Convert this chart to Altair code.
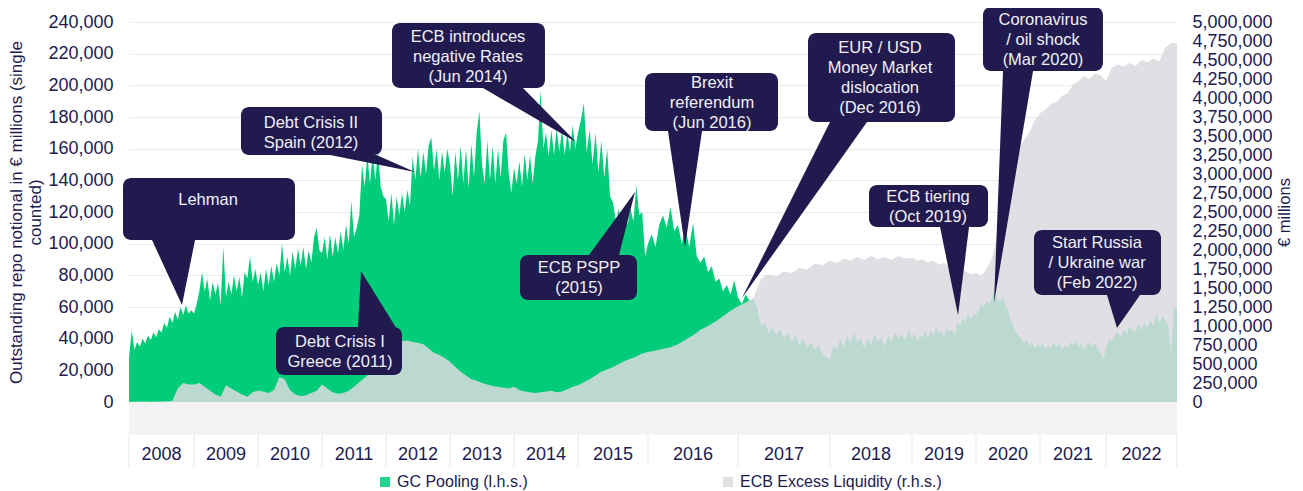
import math
import altair as alt
import pandas as pd

FONT = "Liberation Sans"
NAVY = "#211a4e"
GREEN = "#00cc7a"
GREY = "#dbdbdf"
BAND = "#f2f3f2"
GRID = "#ebebeb"
CALLOUT_TEXT = "#f1f0f6"

YEARS = list(range(2008, 2023))
# observations per year (trading days in the source series)
OBS_PER_YEAR = [260, 256, 256, 256, 256, 256, 256, 280, 360, 368, 328, 256, 256, 264, 284]

# GC Pooling outstanding (EUR m), ~semi-monthly readings per year
GC_2008 = [28000, 45000, 33000, 38000, 35000, 40000, 37000, 42000, 39000, 44000, 41000, 46000, 44000, 50000, 47000, 54000, 50000, 57000, 52000, 60000, 55000, 61000, 56000, 58000]
GC_2009 = [56000, 62000, 70000, 82000, 70000, 78000, 64000, 76000, 68000, 75000, 62000, 98000, 66000, 76000, 68000, 80000, 70000, 79000, 66000, 82000, 78000, 92000, 76000, 84000]
GC_2010 = [74000, 82000, 70000, 84000, 74000, 86000, 76000, 88000, 80000, 100000, 82000, 92000, 80000, 95000, 84000, 97000, 86000, 98000, 84000, 96000, 88000, 104000, 110000, 96000]
GC_2011 = [94000, 104000, 90000, 106000, 92000, 104000, 94000, 108000, 96000, 112000, 100000, 127000, 104000, 110000, 118000, 150000, 136000, 156000, 138000, 157000, 140000, 158000, 136000, 130000]
GC_2012 = [128000, 114000, 132000, 112000, 130000, 118000, 132000, 120000, 134000, 124000, 155000, 140000, 160000, 142000, 158000, 144000, 162000, 167000, 146000, 160000, 140000, 158000, 145000, 160000]
GC_2013 = [150000, 130000, 158000, 140000, 162000, 138000, 160000, 135000, 163000, 142000, 170000, 184000, 150000, 138000, 165000, 140000, 162000, 138000, 160000, 142000, 165000, 170000, 145000, 132000]
GC_2014 = [148000, 138000, 152000, 136000, 157000, 140000, 156000, 138000, 155000, 165000, 197000, 160000, 170000, 155000, 172000, 156000, 173000, 158000, 172000, 156000, 170000, 158000, 175000, 160000]
GC_2015 = [170000, 178000, 189000, 158000, 172000, 150000, 170000, 145000, 165000, 142000, 160000, 130000, 126000, 114000, 122000, 110000, 123000, 112000, 122000, 114000, 137000, 118000, 120000, 92000]
GC_2016 = [100000, 106000, 98000, 112000, 118000, 110000, 123000, 108000, 112000, 100000, 110000, 98000, 113000, 92000, 88000, 92000, 82000, 86000, 76000, 78000, 70000, 74000, 68000, 77000]
GC_2017 = [66000, 62000, 68000, 64000, 65000, 60000, 48000, 50000, 44000, 47000, 42000, 46000, 40000, 44000, 38000, 42000, 36000, 40000, 34000, 38000, 33000, 36000, 30000, 28000]
GC_2018 = [27000, 36000, 33000, 40000, 35000, 42000, 37000, 44000, 38000, 41000, 34000, 40000, 36000, 43000, 38000, 41000, 35000, 42000, 38000, 44000, 40000, 43000, 39000, 45000]
GC_2019 = [40000, 44000, 38000, 42000, 41000, 45000, 40000, 46000, 42000, 47000, 43000, 45000, 41000, 47000, 44000, 46000, 42000, 50000, 48000, 53000, 50000, 56000, 52000, 55000]
GC_2020 = [55000, 58000, 62000, 60000, 64000, 62000, 66000, 71000, 65000, 63000, 66000, 62000, 58000, 52000, 48000, 44000, 42000, 40000, 37000, 39000, 35000, 38000, 34000, 36000]
GC_2021 = [35000, 37000, 33000, 36000, 34000, 38000, 35000, 37000, 33000, 36000, 34000, 38000, 36000, 39000, 35000, 37000, 33000, 36000, 38000, 35000, 37000, 34000, 31000, 27000]
GC_2022 = [34000, 40000, 38000, 42000, 44000, 41000, 46000, 43000, 48000, 45000, 44000, 49000, 46000, 50000, 47000, 52000, 48000, 56000, 50000, 54000, 52000, 48000, 31000, 60000]

# ECB excess liquidity (EUR m), monthly readings per year
EL_2008 = [5000, 5000, 8000, 6000, 5000, 8000, 6000, 10000, 15000, 180000, 250000, 230000]
EL_2009 = [230000, 250000, 200000, 150000, 100000, 70000, 220000, 180000, 140000, 100000, 70000, 130000]
EL_2010 = [150000, 140000, 120000, 160000, 330000, 300000, 160000, 100000, 80000, 90000, 120000, 150000]
EL_2011 = [230000, 180000, 130000, 110000, 120000, 150000, 200000, 260000, 320000, 380000, 460000, 520000]
EL_2012 = [600000, 720000, 780000, 800000, 810000, 790000, 780000, 760000, 700000, 650000, 620000, 580000]
EL_2013 = [530000, 460000, 400000, 350000, 300000, 280000, 250000, 230000, 210000, 200000, 190000, 180000]
EL_2014 = [200000, 160000, 140000, 130000, 120000, 130000, 140000, 150000, 130000, 140000, 170000, 200000]
EL_2015 = [220000, 260000, 300000, 350000, 400000, 430000, 460000, 500000, 540000, 570000, 600000, 640000]
EL_2016 = [660000, 680000, 700000, 720000, 760000, 820000, 880000, 950000, 1000000, 1060000, 1130000, 1200000]
EL_2017 = [1260000, 1310000, 1370000, 1620000, 1680000, 1650000, 1720000, 1690000, 1770000, 1740000, 1820000, 1800000]
EL_2018 = [1860000, 1830000, 1890000, 1860000, 1910000, 1870000, 1920000, 1880000, 1910000, 1870000, 1920000, 1890000]
EL_2019 = [1900000, 1860000, 1880000, 1840000, 1860000, 1810000, 1830000, 1780000, 1800000, 1740000, 1720000, 1680000]
EL_2020 = [1700000, 1660000, 1750000, 1900000, 2200000, 2700000, 3000000, 3200000, 3330000, 3450000, 3550000, 3700000]
EL_2021 = [3800000, 3850000, 3920000, 3950000, 4030000, 4060000, 4180000, 4220000, 4290000, 4250000, 4320000, 4300000]
EL_2022 = [4230000, 4400000, 4440000, 4410000, 4460000, 4420000, 4500000, 4470000, 4520000, 4480000, 4660000, 4720000]

GC_BY_YEAR = [GC_2008, GC_2009, GC_2010, GC_2011, GC_2012, GC_2013, GC_2014, GC_2015,
              GC_2016, GC_2017, GC_2018, GC_2019, GC_2020, GC_2021, GC_2022]
EL_BY_YEAR = [EL_2008, EL_2009, EL_2010, EL_2011, EL_2012, EL_2013, EL_2014, EL_2015,
              EL_2016, EL_2017, EL_2018, EL_2019, EL_2020, EL_2021, EL_2022]

SERIES_NAMES = ["GC Pooling (l.h.s.)", "ECB Excess Liquidity (r.h.s.)"]
LEFT_TICKS = list(range(0, 240001, 20000))
RIGHT_TICKS = list(range(0, 5000001, 250000))

# Callouts: (text, box x0, box x1 [decimal year], box y0, y1 [lhs units], text x, first-line y,
#            pointer base x0, x1, base y, tip x, tip y)
CALLOUTS = [
    ("Lehman", 2007.908, 2010.578, 102300, 141500, 2009.219, 127600, 2008.354, 2009.016, 102300, 2008.815, 61300),
    ("Debt Crisis II\nSpain (2012)", 2009.734, 2011.938, 156000, 186300, 2010.828, 176200, 2011.125, 2011.85, 156000, 2012.453, 145300),
    ("ECB introduces\nnegative Rates\n(Jun 2014)", 2012.094, 2014.484, 198300, 239400, 2013.281, 230500, 2013.516, 2014.141, 198300, 2014.969, 164200),
    ("Brexit\nreferendum\n(Jun 2016)", 2015.957, 2017.435, 171200, 207800, 2016.711, 201500, 2016.222, 2016.6, 171200, 2016.411, 97900),
    ("EUR / USD\nMoney Market\ndislocation\n(Dec 2016)", 2017.761, 2019.672, 176800, 233100, 2018.61, 223600, 2018.0, 2018.451, 176800, 2017.043, 65700),
    ("ECB tiering\n(Oct 2019)", 2018.476, 2020.188, 110500, 137100, 2019.25, 129500, 2019.438, 2019.891, 110500, 2019.719, 54900),
    ("Coronavirus\n/ oil shock\n(Mar 2020)", 2020.109, 2021.954, 209100, 249500, 2021.045, 241300, 2020.422, 2020.891, 209100, 2020.281, 62500),
    ("Start Russia\n/ Ukraine war\n(Feb 2022)", 2020.906, 2022.775, 67600, 108600, 2021.864, 100400, 2022.014, 2022.479, 67600, 2022.155, 46700),
    ("ECB PSPP\n(2015)", 2014.094, 2015.843, 64400, 92800, 2015.014, 84600, 2015.157, 2015.586, 92800, 2015.814, 132600),
    ("Debt Crisis I\nGreece (2011)", 2010.281, 2012.25, 17100, 47400, 2011.281, 37900, 2011.563, 2012.15, 47400, 2011.609, 82700),
]

# ---- layout constants (lhs units) ----
Y_MAX = 240000
Y_MIN = -41000
BAND_BOTTOM = -20850
YEAR_LABEL_Y = -33400
R_MAX = 5000000
R_MIN = Y_MIN * R_MAX / Y_MAX

year_start = []
acc = 0
for n in OBS_PER_YEAR:
    year_start.append(acc)
    acc += n
TOTAL = acc


def dec_to_idx(d):
    y = math.floor(d)
    i = min(max(y - YEARS[0], 0), len(YEARS) - 1)
    return year_start[i] + (d - YEARS[i]) * OBS_PER_YEAR[i]


def series_df(by_year, name):
    rows = []
    for i, vals in enumerate(by_year):
        n = len(vals)
        for j, v in enumerate(vals):
            rows.append({"idx": year_start[i] + j * OBS_PER_YEAR[i] / n, "value": v, "series": name})
    rows.append({"idx": TOTAL, "value": by_year[-1][-1], "series": name})
    return pd.DataFrame(rows)


def triangle_rows(name, a, b, t):
    pts = [a, b, t]
    xs = sorted(set(p[0] for p in pts))
    edges = [(a, b), (b, t), (t, a)]
    rows = []
    for x0 in xs:
        ys = []
        for p, q in edges:
            x1, y1 = p
            x2, y2 = q
            if abs(x1 - x2) < 1e-9:
                if abs(x0 - x1) < 1e-9:
                    ys += [y1, y2]
                continue
            if min(x1, x2) - 1e-9 <= x0 <= max(x1, x2) + 1e-9:
                ys.append(y1 + (y2 - y1) * (x0 - x1) / (x2 - x1))
        rows.append({"name": name, "x": x0, "y": min(ys), "y2": max(ys)})
    return rows


gc_df = series_df(GC_BY_YEAR, SERIES_NAMES[0])
el_df = series_df(EL_BY_YEAR, SERIES_NAMES[1])

box_rows, text_rows, tri = [], [], []
for (txt, bx0, bx1, by0, by1, tx, ty, px0, px1, py, kx, ky) in CALLOUTS:
    box_rows.append({"x0": dec_to_idx(bx0), "x1": dec_to_idx(bx1), "y0": by0, "y1": by1})
    text_rows.append({"x": dec_to_idx(tx), "y": ty, "text": txt})
    tri += triangle_rows(txt, (dec_to_idx(px0), py), (dec_to_idx(px1), py), (dec_to_idx(kx), ky))
box_df = pd.DataFrame(box_rows)
ctext_df = pd.DataFrame(text_rows)
tri_df = pd.DataFrame(tri)

bounds = year_start + [TOTAL]
sep_df = pd.DataFrame({"x": bounds, "y0": [BAND_BOTTOM] * len(bounds), "y1": [Y_MIN] * len(bounds)})
yl_df = pd.DataFrame({
    "x": [year_start[i] + OBS_PER_YEAR[i] / 2 for i in range(len(YEARS))],
    "y": [YEAR_LABEL_Y] * len(YEARS),
    "text": [str(y) for y in YEARS],
})
band_df = pd.DataFrame({"x0": [0], "x1": [TOTAL], "y0": [0], "y1": [BAND_BOTTOM]})

xs = alt.Scale(domain=[0, TOTAL], nice=False, zero=False)
ys = alt.Scale(domain=[Y_MIN, Y_MAX], nice=False, zero=False)
rs = alt.Scale(domain=[R_MIN, R_MAX], nice=False, zero=False)

color = alt.Color(
    "series:N",
    scale=alt.Scale(domain=SERIES_NAMES, range=[GREEN, GREY]),
    legend=alt.Legend(
        title=None, orient="none", legendX=248, legendY=452, direction="horizontal",
        symbolType="square", symbolSize=100, symbolStrokeWidth=0,
        labelFont=FONT, labelFontSize=16, labelColor=NAVY, labelOffset=4,
        labelLimit=500, columnPadding=192, padding=0,
    ),
)

left_axis = alt.Axis(
    values=LEFT_TICKS, format=",d", ticks=False, domain=False, grid=True,
    gridColor=GRID, gridWidth=1, labelFont=FONT, labelFontSize=18, labelColor=NAVY,
    labelPadding=16, labelOverlap=False, orient="left",
    title=["Outstanding repo notional in € millions (single", "counted)"],
    titleFont=FONT, titleFontSize=17, titleFontWeight="normal", titleColor=NAVY,
    titleAngle=270, titleX=-121, titleY=190, titleAlign="center", titleBaseline="top",
    titleLineHeight=19,
)
right_axis = alt.Axis(
    values=RIGHT_TICKS, format=",d", ticks=False, tickSize=0, domain=False, grid=False,
    labelFont=FONT, labelFontSize=18, labelColor=NAVY, labelPadding=15,
    labelOverlap=False, orient="right", labelAlign="left",
    title="€ millions", titleFont=FONT, titleFontSize=16.5, titleFontWeight="normal",
    titleColor=NAVY, titleAngle=270, titleX=107, titleY=190, titleAlign="center",
    titleBaseline="middle",
)

green = alt.Chart(gc_df).mark_area(interpolate="linear").encode(
    x=alt.X("idx:Q", scale=xs, axis=None),
    y=alt.Y("value:Q", scale=ys, axis=left_axis, stack=None),
    y2=alt.Y2Datum(datum=0),
    color=color,
)

grey = alt.Chart(el_df).mark_area(interpolate="linear", opacity=0.86).encode(
    x=alt.X("idx:Q", scale=xs, axis=None),
    y=alt.Y("value:Q", scale=rs, axis=right_axis, stack=None),
    y2=alt.Y2Datum(datum=0),
    color=color,
)

band = alt.Chart(band_df).mark_rect(color=BAND).encode(
    x=alt.X("x0:Q", scale=xs, axis=None), x2="x1",
    y=alt.Y("y0:Q", scale=ys, axis=None), y2="y1",
)
seps = alt.Chart(sep_df).mark_rule(color="#e6e6e6", strokeWidth=1).encode(
    x=alt.X("x:Q", scale=xs, axis=None),
    y=alt.Y("y0:Q", scale=ys, axis=None), y2="y1",
)
year_labels = alt.Chart(yl_df).mark_text(
    font=FONT, fontSize=18, color=NAVY, align="center", baseline="middle"
).encode(
    x=alt.X("x:Q", scale=xs, axis=None),
    y=alt.Y("y:Q", scale=ys, axis=None),
    text="text:N",
)
pointers = alt.Chart(tri_df).mark_area(color=NAVY, interpolate="linear").encode(
    x=alt.X("x:Q", scale=xs, axis=None),
    y=alt.Y("y:Q", scale=ys, axis=None, stack=None),
    y2="y2:Q",
    detail="name:N",
)
boxes = alt.Chart(box_df).mark_rect(color=NAVY, cornerRadius=8).encode(
    x=alt.X("x0:Q", scale=xs, axis=None), x2="x1",
    y=alt.Y("y0:Q", scale=ys, axis=None), y2="y1",
)
callout_text = alt.Chart(ctext_df).mark_text(
    font=FONT, fontSize=16.5, color=CALLOUT_TEXT, align="center", baseline="middle",
    lineBreak="\n", lineHeight=20,
).encode(
    x=alt.X("x:Q", scale=xs, axis=None),
    y=alt.Y("y:Q", scale=ys, axis=None),
    text="text:N",
)

overlay = alt.layer(band, seps, year_labels, pointers, boxes, callout_text)

chart = alt.layer(green, grey, overlay).resolve_scale(y="independent").properties(
    width=1048, height=445,
    autosize=alt.AutoSizeParams(type="none"),
    padding={"left": 121, "top": 14, "right": 118, "bottom": 26},
).configure_view(strokeWidth=0)

chart.save("out.html", embed_options={"renderer": "svg", "actions": False})
